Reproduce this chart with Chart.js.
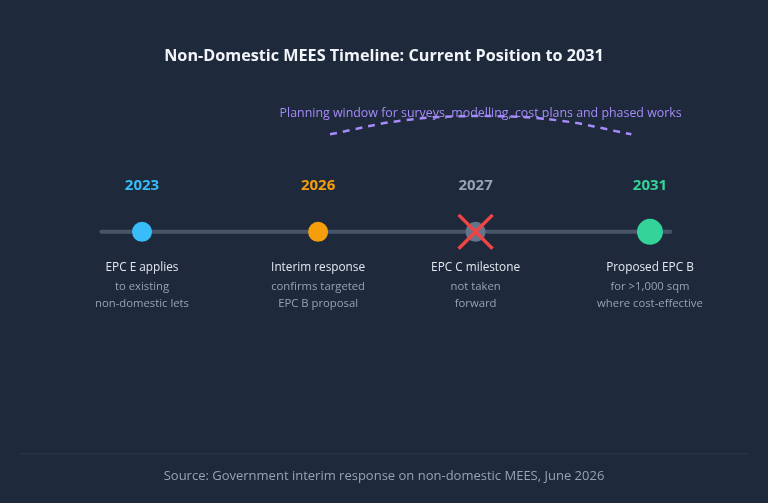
<!DOCTYPE html>
<html lang="en">
<head>
    <meta charset="UTF-8">
    <title>Non-Domestic MEES Timeline</title>
    <script src="https://cdn.jsdelivr.net/npm/chart.js"></script>
    <style>
        html, body { margin: 0; padding: 0; background: #1e293b; }
        canvas { display: block; }
    </style>
</head>
<body>
    <canvas id="timelineChart" width="768" height="503"></canvas>

    <script>
        // Timeline data
        const years = ['2023', '2026', '2027', '2031'];
        const slots = [0, 1.04, 1.97, 3];   // position of each milestone along the track
        const headlines = ['EPC E applies', 'Interim response', 'EPC C milestone', 'Proposed EPC B'];
        const details = [
            ['to existing', 'non-domestic lets'],
            ['confirms targeted', 'EPC B proposal'],
            ['not taken', 'forward'],
            ['for >1,000 sqm', 'where cost-effective']
        ];
        const droppedYears = ['2027'];
        const trackRange = [-0.24, 3.12];

        // Planning window arc
        const windowX = [1.11, 1.55, 2.0, 2.45, 2.89];
        const windowY = [5.9, 6.75, 7.0, 6.75, 5.9];
        const windowLabel = 'Planning window for surveys, modelling, cost plans and phased works';

        const titleText = 'Non-Domestic MEES Timeline: Current Position to 2031';
        const sourceText = 'Source: Government interim response on non-domestic MEES, June 2026';

        // Styles
        const FONT = "'Open Sans', 'Noto Sans', sans-serif";
        const yearColors = ['#38bdf8', '#f59e0b', '#94a3b8', '#34d399'];
        const dotColors = ['#38bdf8', '#f59e0b', '#64748b', '#34d399'];
        const dotSizes = [10, 10, 10, 13];

        const eventPoints = years.map((y, i) => ({ x: slots[i], y: 0 }));
        const crossPoints = years
            .map((y, i) => ({ x: slots[i], y: 0, year: y }))
            .filter(p => droppedYears.includes(p.year));

        // Draws year labels, descriptions, arc label and footer rule
        const labelPlugin = {
            id: 'timelineLabels',
            beforeDatasetsDraw(chart) {
                const ctx = chart.ctx;
                const area = chart.chartArea;
                ctx.save();
                ctx.strokeStyle = 'rgba(148, 163, 184, 0.13)';
                ctx.lineWidth = 1;
                ctx.beginPath();
                ctx.moveTo(19, area.bottom - 14.5);
                ctx.lineTo(749, area.bottom - 14.5);
                ctx.stroke();
                ctx.restore();
            },
            afterDatasetsDraw(chart) {
                const ctx = chart.ctx;
                const pts = chart.getDatasetMeta(1).data;
                ctx.save();
                ctx.textAlign = 'center';
                ctx.textBaseline = 'middle';
                pts.forEach((p, i) => {
                    ctx.font = 'bold 15px ' + FONT;
                    ctx.fillStyle = yearColors[i];
                    ctx.fillText(years[i], p.x, p.y - 46);

                    ctx.font = '11.8px ' + FONT;
                    ctx.fillStyle = '#e2e8f0';
                    ctx.fillText(headlines[i], p.x, p.y + 36);

                    ctx.font = '11.3px ' + FONT;
                    ctx.fillStyle = '#94a3b8';
                    details[i].forEach((line, j) => {
                        ctx.fillText(line, p.x, p.y + 54.5 + j * 17.5);
                    });
                });

                const arc = chart.getDatasetMeta(2).data;
                const peak = arc[Math.floor(arc.length / 2)];
                ctx.font = '12.4px ' + FONT;
                ctx.fillStyle = '#a78bfa';
                ctx.fillText(windowLabel, peak.x, peak.y - 3);
                ctx.restore();
            }
        };

        const ctx = document.getElementById('timelineChart').getContext('2d');
        const timelineChart = new Chart(ctx, {
            type: 'line',
            data: {
                datasets: [
                    {
                        label: 'Not taken forward',
                        data: crossPoints,
                        showLine: false,
                        pointStyle: 'crossRot',
                        pointRadius: 24,
                        pointBorderColor: '#ef4444',
                        pointBorderWidth: 3.5,
                        order: 0
                    },
                    {
                        label: 'Milestones',
                        data: eventPoints,
                        showLine: false,
                        pointRadius: dotSizes,
                        pointBackgroundColor: dotColors,
                        pointBorderWidth: 0,
                        order: 1
                    },
                    {
                        label: 'Planning window',
                        data: windowX.map((x, i) => ({ x: x, y: windowY[i] })),
                        borderColor: '#a78bfa',
                        borderWidth: 2.5,
                        borderDash: [7, 6],
                        tension: 0.4,
                        pointRadius: 0,
                        order: 2
                    },
                    {
                        label: 'Track',
                        data: trackRange.map(x => ({ x: x, y: 0 })),
                        borderColor: '#475569',
                        borderWidth: 4,
                        borderCapStyle: 'round',
                        pointRadius: 0,
                        order: 3
                    }
                ]
            },
            options: {
                responsive: false,
                animation: false,
                events: [],
                layout: { padding: 0, autoPadding: false },
                scales: {
                    x: { type: 'linear', min: -0.8386, max: 3.697, display: false },
                    y: { type: 'linear', min: -14.3, max: 10, display: false }
                },
                plugins: {
                    legend: { display: false },
                    tooltip: { enabled: false },
                    title: {
                        display: true,
                        text: titleText,
                        color: '#f1f5f9',
                        font: { family: FONT, size: 16.2, weight: 'bold' },
                        padding: { top: 47, bottom: 0 }
                    },
                    subtitle: {
                        display: true,
                        text: sourceText,
                        position: 'bottom',
                        color: '#94a3b8',
                        font: { family: FONT, size: 13, weight: 'normal' },
                        padding: { top: 0, bottom: 19 }
                    }
                }
            },
            plugins: [labelPlugin]
        });
    </script>
</body>
</html>
